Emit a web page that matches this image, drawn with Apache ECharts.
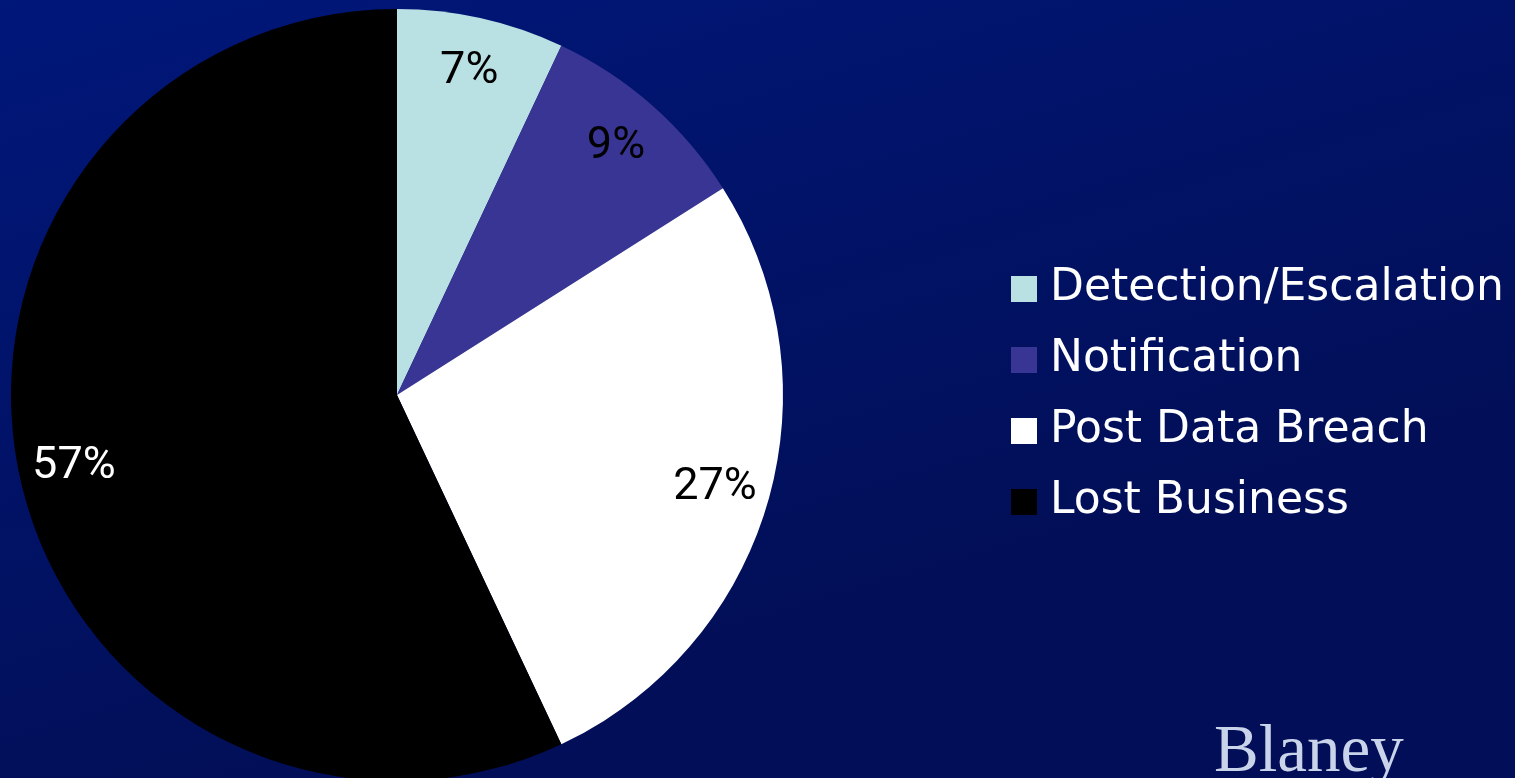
<!DOCTYPE html>
<html>
<head>
<meta charset="utf-8">
<script src="https://cdn.jsdelivr.net/npm/echarts@6/dist/echarts.min.js"></script>
<style>
html,body{margin:0;padding:0;width:1515px;height:778px;overflow:hidden;}
#chart{width:1515px;height:778px;}
</style>
</head>
<body>
<div id="chart"></div>
<script>
const categories = ['Detection/Escalation', 'Notification', 'Post Data Breach', 'Lost Business'];
const values = [7, 9, 27, 57];
const sliceColors = ['#B9E0E3', '#393594', '#FFFFFF', '#000000'];
const labelColors = ['#000000', '#000000', '#000000', '#FFFFFF'];

const chart = echarts.init(document.getElementById('chart'));
const R = 386;

const mainData = categories.map((c, i) => ({
  name: c, value: values[i], itemStyle: { color: sliceColors[i] }
}));
const labelData = categories.map((c, i) => ({
  name: c, value: values[i],
  label: { color: labelColors[i] }
}));

chart.setOption({
  backgroundColor: {
    type: 'linear', x: 0, y: 0, x2: 0.15, y2: 1,
    colorStops: [{ offset: 0, color: '#00177A' }, { offset: 1, color: '#020F58' }]
  },
  animation: false,
  legend: {
    orient: 'vertical',
    left: 1006,
    top: 262,
    itemWidth: 26,
    itemHeight: 26,
    itemGap: 27,
    icon: 'rect',
    data: categories,
    textStyle: {
      color: '#FFFFFF',
      fontFamily: 'DejaVu Sans',
      fontSize: 44,
      lineHeight: 44,
      padding: [0, 0, 0, 8]
    },
    selectedMode: false
  },
  series: [
    {
      type: 'pie',
      center: [397, 395],
      radius: [0, R],
      startAngle: 90,
      clockwise: true,
      silent: true,
      label: { show: false },
      labelLine: { show: false },
      itemStyle: { borderWidth: 0 },
      data: mainData
    },
    {
      type: 'pie',
      center: [397, 395],
      radius: [R * 0.7, R],
      startAngle: 90,
      clockwise: true,
      silent: true,
      itemStyle: { color: 'rgba(0,0,0,0)', borderWidth: 0 },
      label: {
        show: true,
        position: 'inside',
        formatter: '{c}%',
        fontFamily: 'Roboto, sans-serif',
        fontSize: 45
      },
      labelLine: { show: false },
      data: labelData
    }
  ],
  graphic: [
    {
      type: 'text',
      left: 1214,
      top: 720,
      style: {
        text: 'Blaney',
        fill: '#C9D3EA',
        font: '67px "Liberation Serif", serif'
      }
    }
  ]
});
</script>
</body>
</html>
